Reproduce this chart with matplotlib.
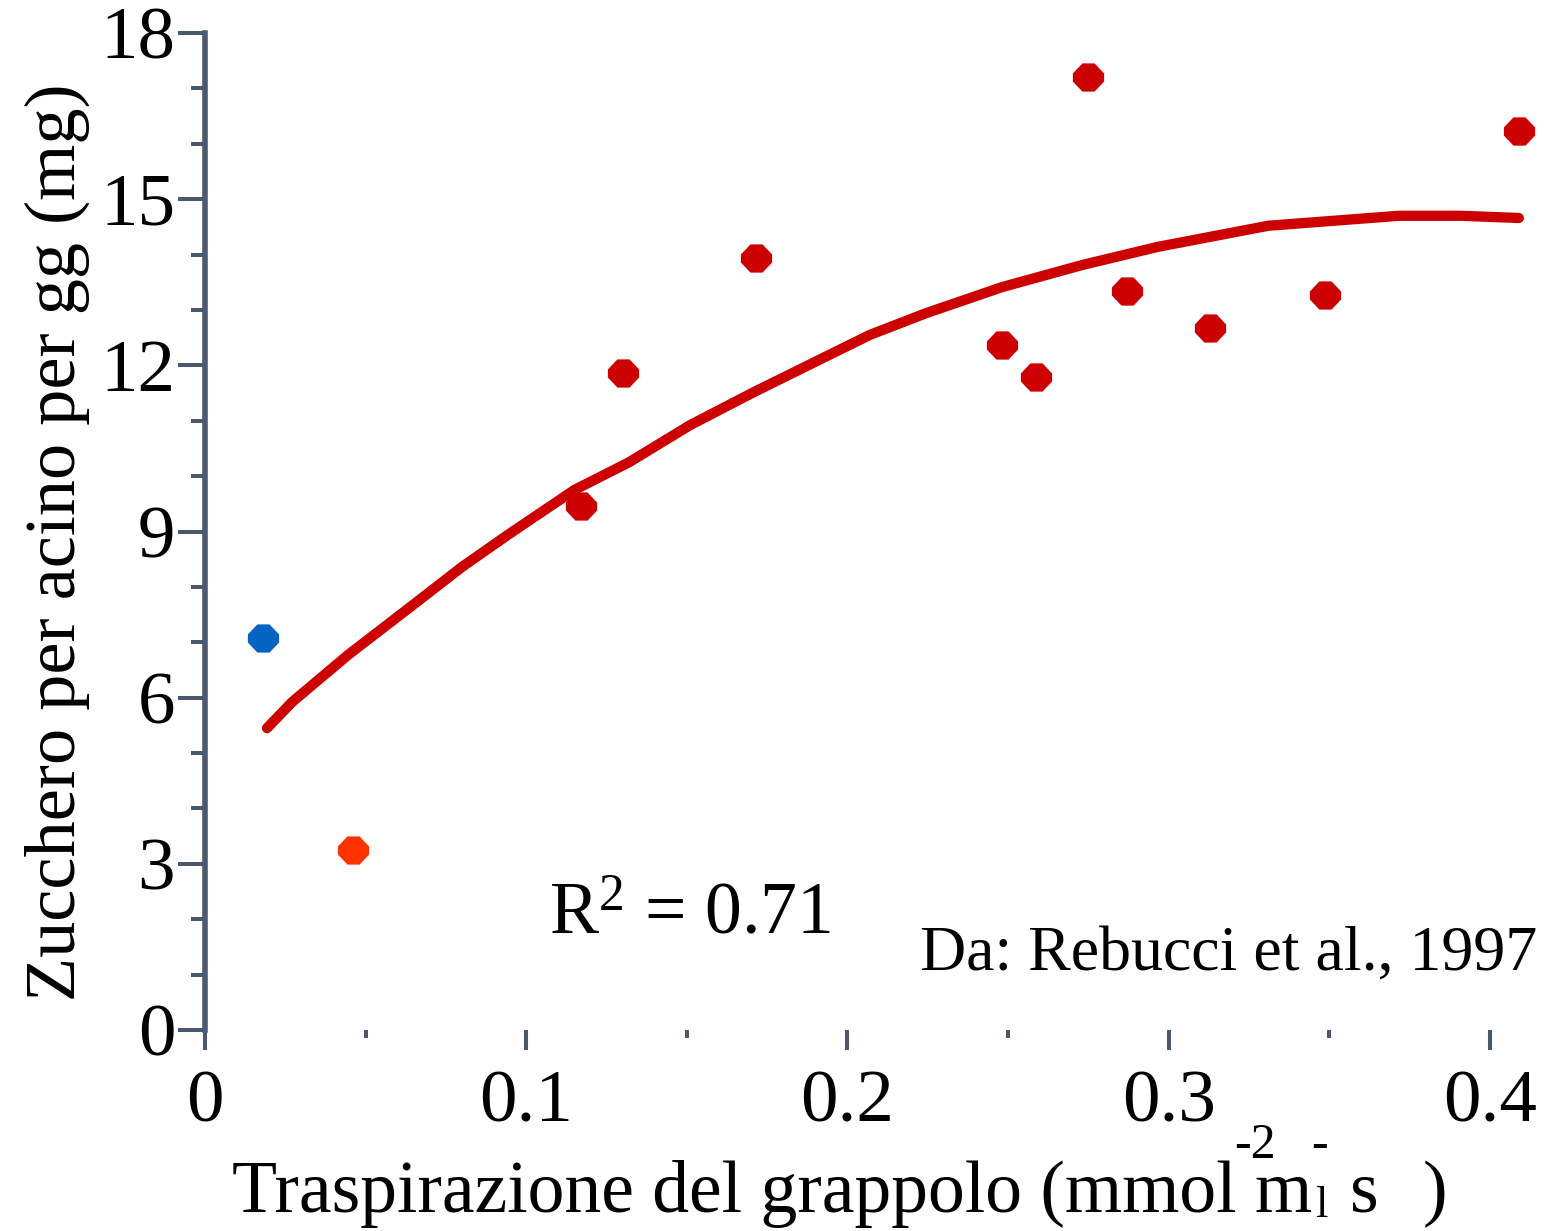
import matplotlib
matplotlib.use("Agg")
import matplotlib.pyplot as plt
from matplotlib.path import Path
from matplotlib.ticker import MultipleLocator, FixedLocator

plt.rcParams['font.family'] = ['Liberation Serif', 'DejaVu Serif']
plt.rcParams['mathtext.fontset'] = 'custom'
plt.rcParams['mathtext.rm'] = 'Liberation Serif'
plt.rcParams['mathtext.it'] = 'Liberation Serif:italic'

# measured points (transpiration, sugar)
blue_x = [0.018]
blue_y = [7.08]
orange_x = [0.046]
orange_y = [3.25]
red_x = [0.117, 0.130, 0.1715, 0.248, 0.2587, 0.275, 0.287, 0.3128, 0.3486, 0.409]
red_y = [9.46, 11.86, 13.94, 12.37, 11.79, 17.2, 13.34, 12.67, 13.27, 16.23]

# fitted curve as drawn
fit_x = [0.0193, 0.0271, 0.0445, 0.066, 0.080, 0.0943, 0.115, 0.132, 0.151, 0.171,
         0.193, 0.207, 0.2244, 0.248, 0.273, 0.2967, 0.331, 0.3717, 0.391, 0.409]
fit_y = [5.45, 5.92, 6.77, 7.73, 8.36, 8.94, 9.75, 10.25, 10.92, 11.52,
         12.15, 12.55, 12.94, 13.41, 13.81, 14.14, 14.52, 14.70, 14.70, 14.66]

y_ticks = [0, 3, 6, 9, 12, 15, 18]
x_ticks = [0, 0.1, 0.2, 0.3, 0.4]
x_labels = ['0', '0.1', '0.2', '0.3', '0.4']

W, H = 1555, 1231
AX_COL = '#4a5870'
RED = '#cc0000'


def px(x, y):
    return x / W, 1 - y / H


fig = plt.figure(figsize=(W / 100, H / 100), dpi=100)
ax = fig.add_axes([205 / W, (H - 1030) / H, 1317 / W, 997 / H])

# slightly flattened octagon, like the original markers
octo = Path([(-6, 14), (6, 14), (15.5, 4), (15.5, -4), (6, -14), (-6, -14),
             (-15.5, -4), (-15.5, 4), (-6, 14)], closed=True)

ax.plot(fit_x, fit_y, color=RED, lw=7.4, solid_capstyle='round',
        solid_joinstyle='round', zorder=2, clip_on=False)
ax.plot(red_x, red_y, ls='none', marker=octo, ms=22.5, color=RED, mec='none',
        zorder=3, clip_on=False)
ax.plot(blue_x, blue_y, ls='none', marker=octo, ms=22.5, color='#0563c1', mec='none',
        zorder=3, clip_on=False)
ax.plot(orange_x, orange_y, ls='none', marker=octo, ms=22.5, color='#ff3300', mec='none',
        zorder=3, clip_on=False)

ax.set_xlim(0, 0.41)
ax.set_ylim(0, 18)
for s in ['top', 'right', 'bottom']:
    ax.spines[s].set_visible(False)
ax.spines['left'].set_color(AX_COL)
ax.spines['left'].set_linewidth(4)

ax.yaxis.set_major_locator(FixedLocator(y_ticks))
ax.yaxis.set_minor_locator(MultipleLocator(1))
ax.set_xticks(x_ticks)
ax.set_xticklabels(x_labels)
ax.xaxis.set_minor_locator(MultipleLocator(0.05))

ax.tick_params(axis='y', which='major', length=19.5, width=2.9, color=AX_COL,
               labelsize=54, pad=2)
ax.tick_params(axis='y', which='minor', length=10, width=2.9, color=AX_COL)
ax.tick_params(axis='x', which='major', length=14.5, width=2.9, color=AX_COL,
               labelsize=54, pad=14)
ax.tick_params(axis='x', which='minor', length=6, width=2.9, color=AX_COL)

# axis titles
fig.text(*px(57, 542), 'Zucchero per acino per gg (mg)', rotation=90,
         ha='center', va='center', fontsize=52)
main = fig.text(*px(232, 1212), 'Traspirazione del grappolo (mmol m', ha='left',
                va='baseline', fontsize=53)
fig.canvas.draw()
xe = main.get_window_extent(fig.canvas.get_renderer()).x1
fig.text(*px(xe + 3, 1217), 'l', ha='left', va='baseline', fontsize=32)
fig.text(*px(xe + 38, 1212), 's', ha='left', va='baseline', fontsize=53)
fig.text(*px(xe + 110, 1212), ')', ha='left', va='baseline', fontsize=53)
fig.text(*px(xe - 78, 1158), '-2', ha='left', va='baseline', fontsize=36)
fig.text(*px(xe - 1, 1158), '-', ha='left', va='baseline', fontsize=36)

# annotations
fig.text(*px(549, 933), r'R$^{2}$ = 0.71', ha='left', va='baseline', fontsize=53)
fig.text(*px(1537, 970), 'Da: Rebucci et al., 1997', ha='right', va='baseline',
         fontsize=46)

fig.savefig('out.png', dpi=100)
